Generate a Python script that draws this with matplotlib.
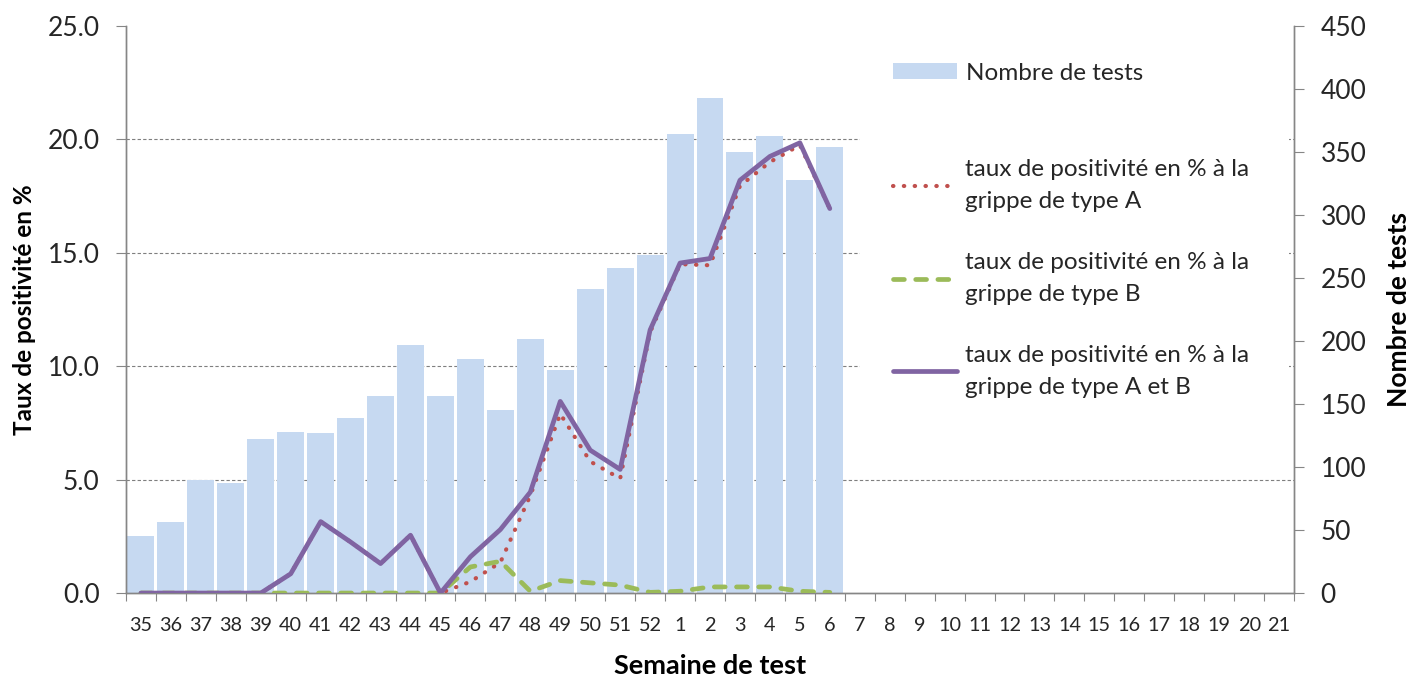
import numpy as np
import matplotlib
matplotlib.use("Agg")
import matplotlib.pyplot as plt
from matplotlib.ticker import FixedLocator, FormatStrFormatter

plt.rcParams['font.family'] = ['Lato', 'DejaVu Sans']

# semaines (axe des x)
weeks = ['35', '36', '37', '38', '39', '40', '41', '42', '43', '44', '45', '46',
         '47', '48', '49', '50', '51', '52', '1', '2', '3', '4', '5', '6', '7',
         '8', '9', '10', '11', '12', '13', '14', '15', '16', '17', '18', '19',
         '20', '21']

# nombre de tests (semaines 35 -> 6)
tests = [45, 56, 90, 87, 122, 128, 127, 139, 156, 197, 156, 186,
         145, 202, 177, 241, 258, 268, 364, 393, 350, 363, 328, 354]

# taux de positivité en %
pos_a = [0, 0, 0, 0, 0, 0.85, 3.15, 2.25, 1.3, 2.55, 0, 0.5,
         1.35, 4.3, 7.9, 5.8, 5.05, 11.5, 14.5, 14.45, 17.95, 19.0, 19.75, 16.95]
pos_b = [0, 0, 0, 0, 0, 0, 0, 0, 0, 0, 0, 1.15,
         1.4, 0.08, 0.55, 0.45, 0.35, 0.03, 0.08, 0.27, 0.27, 0.27, 0.08, 0.03]
pos_ab = [0, 0, 0, 0, 0, 0.85, 3.15, 2.25, 1.3, 2.55, 0, 1.6,
          2.8, 4.45, 8.45, 6.3, 5.45, 11.6, 14.55, 14.75, 18.2, 19.25, 19.85, 16.95]

pct_ticks = [0, 5, 10, 15, 20, 25]
count_ticks = [0, 50, 100, 150, 200, 250, 300, 350, 400, 450]

GRAY = '#868686'
TXT = '#262626'

fig, ax = plt.subplots(figsize=(14.11, 6.77), dpi=100)
fig.subplots_adjust(left=0.0893, right=0.9171, bottom=0.124, top=0.9616)

x = np.arange(len(weeks))
xb = np.arange(len(tests))

# barres -> axe de droite (nombre de tests)
bars = ax.bar(xb, tests, width=0.9, color='#C6D9F1', zorder=2, label='Nombre de tests')
ax.set_ylim(0, 450)
ax.set_xlim(-0.5, len(weeks) - 0.5)

# lignes -> axe de gauche (taux)
ax2 = ax.twinx()
ax.yaxis.tick_right()
ax.yaxis.set_label_position('right')
ax2.yaxis.tick_left()
ax2.yaxis.set_label_position('left')
ax2.set_ylim(0, 25)

la, = ax2.plot(xb, pos_a, color='#C0504D', lw=3.0, linestyle=(0, (0.1, 2.5)),
               dash_capstyle='round', label='taux de positivité en % à la\ngrippe de type A', zorder=3)
lb, = ax2.plot(xb, pos_b, color='#9BBB59', lw=3.4, linestyle=(0, (2.3, 2.4)),
               dash_capstyle='round', label='taux de positivité en % à la\ngrippe de type B', zorder=3)
lab, = ax2.plot(xb, pos_ab, color='#8064A2', lw=3.4, solid_capstyle='round',
                label='taux de positivité en % à la\ngrippe de type A et B', zorder=4)

# grille aux graduations de gauche, derrière les barres
ax.yaxis.set_minor_locator(FixedLocator([t * 450 / 25 for t in pct_ticks]))
ax.grid(axis='y', which='minor', color='#7f7f7f', linestyle=(0, (3, 2)), lw=0.8)
ax.set_axisbelow(True)
ax.tick_params(axis='y', which='minor', length=0)

# axe x : graduations entre les catégories, étiquettes au centre
ax.set_xticks(np.arange(-0.5, len(weeks), 1))
ax.set_xticklabels([])
ax.set_xticks(x, minor=True)
ax.set_xticklabels(weeks, minor=True)
ax.tick_params(axis='x', which='major', direction='out', length=6, color=GRAY)
ax.tick_params(axis='x', which='minor', length=0, pad=17, labelsize=14.3, labelcolor=TXT)

ax.set_yticks(count_ticks)
ax.tick_params(axis='y', which='major', direction='out', length=7, color=GRAY,
               labelsize=19, labelcolor=TXT, pad=12)
ax2.set_yticks(pct_ticks)
ax2.yaxis.set_major_formatter(FormatStrFormatter('%.1f'))
ax2.tick_params(axis='y', direction='out', length=7, color=GRAY,
                labelsize=19, labelcolor=TXT, pad=12)

for a in (ax, ax2):
    a.spines['top'].set_visible(False)
    for s in ('left', 'right', 'bottom'):
        a.spines[s].set_color(GRAY)
        a.spines[s].set_linewidth(1.0)

ax2.set_ylabel('Taux de positivité en %', fontsize=17.5, fontweight='bold', color='black', labelpad=8)
ax.set_ylabel('Nombre de tests', fontsize=19, fontweight='bold', color='black', labelpad=15)
ax.set_xlabel('Semaine de test', fontsize=19.5, fontweight='bold', color='black', labelpad=15)

# légende : barres (sans cadre) puis lignes (cadre blanc qui masque la grille)
leg1 = ax2.legend(handles=[bars], loc='center left', bbox_to_anchor=(0.6567, 0.917),
                  frameon=False, fontsize=17.5, handlelength=2.63, handleheight=0.6,
                  handletextpad=0.37, borderpad=0, borderaxespad=0)
for t in leg1.get_texts():
    t.set_color(TXT)
ax2.add_artist(leg1)

leg2 = ax2.legend(handles=[la, lb, lab], loc='upper left', mode='expand',
                  bbox_to_anchor=(0.628, 0.0, 0.368, 0.823), frameon=True, fancybox=False,
                  edgecolor='none', facecolor='white', framealpha=1,
                  fontsize=17.5, handlelength=2.63, handletextpad=0.37,
                  labelspacing=1.63, borderpad=1.36, borderaxespad=0)
for t in leg2.get_texts():
    t.set_color(TXT)
    t.set_linespacing(1.65)

fig.savefig('out.png', dpi=100)
